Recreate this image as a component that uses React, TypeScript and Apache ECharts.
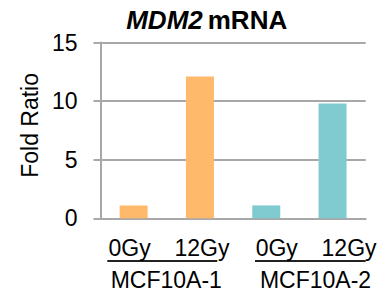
import React, { useEffect, useRef } from "react";
import * as echarts from "echarts";

const categories = ["0Gy", "12Gy", "0Gy", "12Gy"];
const groups = ["MCF10A-1", "MCF10A-2"];
const mcf1Values = [1.1, 12.1];
const mcf2Values = [1.1, 9.8];
const yTicks = { min: 0, max: 15, interval: 5 };

const FONT = "'Liberation Sans', Arial, sans-serif";
const GRID_COLOR = "#a8a8a8";
const FS = 23;

export default function App() {
  const ref = useRef<HTMLDivElement>(null);
  useEffect(() => {
    if (!ref.current) return;
    const chart = echarts.init(ref.current, null, { renderer: "svg" });
    const s1 = [...mcf1Values, "-", "-"];
    const s2 = ["-", "-", ...mcf2Values];
    const shifts = [-8, 4, 21, 33];
    const rich: any = {};
    shifts.forEach((s, i) => {
      rich["l" + i] = {
        fontSize: FS,
        fontFamily: FONT,
        color: "#000",
        padding: s < 0 ? [0, -s, 0, 0] : [0, 0, 0, s],
      };
    });
    chart.setOption({
      animation: false,
      title: {
        text: "{i|MDM2} {b|mRNA}",
        left: 201.7,
        textAlign: "center",
        top: 2,
        textStyle: {
          rich: {
            i: { fontSize: 26, fontWeight: "bold", fontStyle: "italic", fontFamily: FONT, color: "#000" },
            b: { fontSize: 26, fontWeight: "bold", fontFamily: FONT, color: "#000" },
          },
        },
      },
      grid: { left: 100.5, right: 17.3, top: 42.5, bottom: 74.7 },
      xAxis: {
        type: "category",
        data: categories,
        axisLine: { show: true, lineStyle: { color: GRID_COLOR, width: 2 } },
        axisTick: { show: false },
        axisLabel: {
          interval: 0,
          hideOverlap: false,
          margin: 18,
          formatter: (v: string, i: number) => `{l${i}|${v}}`,
          rich,
        },
      },
      yAxis: {
        type: "value",
        min: yTicks.min,
        max: yTicks.max,
        interval: yTicks.interval,
        name: "Fold Ratio",
        nameLocation: "middle",
        nameGap: 52,
        nameTextStyle: { fontSize: FS, fontFamily: FONT, color: "#000", padding: [0, 0, 0, 10] },
        axisLine: { show: true, lineStyle: { color: GRID_COLOR, width: 2 } },
        axisTick: { show: true, length: 7, lineStyle: { color: GRID_COLOR, width: 2 } },
        splitLine: { show: true, lineStyle: { color: GRID_COLOR, width: 2 } },
        axisLabel: { fontSize: FS, fontFamily: FONT, color: "#000", margin: 23, padding: [5, 0, 0, 0] },
      },
      series: [
        {
          type: "bar",
          data: s1,
          barWidth: 28,
          barGap: "-100%",
          itemStyle: { color: "#FFB96A" },
        },
        {
          type: "bar",
          data: s2,
          barWidth: 28,
          barGap: "-100%",
          itemStyle: { color: "#80CBD0" },
        },
      ],
      graphic: [
        { type: "line", shape: { x1: 107.3, y1: 261, x2: 217.3, y2: 261 }, style: { stroke: "#222", lineWidth: 2 } },
        { type: "line", shape: { x1: 255, y1: 261, x2: 365.7, y2: 261 }, style: { stroke: "#222", lineWidth: 2 } },
        {
          type: "text",
          x: 166.3,
          y: 279.5,
          style: { text: groups[0], fontSize: FS, fontFamily: FONT, fill: "#000", align: "center", verticalAlign: "middle" },
        },
        {
          type: "text",
          x: 315.5,
          y: 279.5,
          style: { text: groups[1], fontSize: FS, fontFamily: FONT, fill: "#000", align: "center", verticalAlign: "middle" },
        },
      ],
    });
    return () => chart.dispose();
  }, []);
  return (
    <div
      ref={ref}
      style={{ position: "fixed", left: 0, top: 0, width: 383, height: 293, background: "#fff" }}
    />
  );
}
